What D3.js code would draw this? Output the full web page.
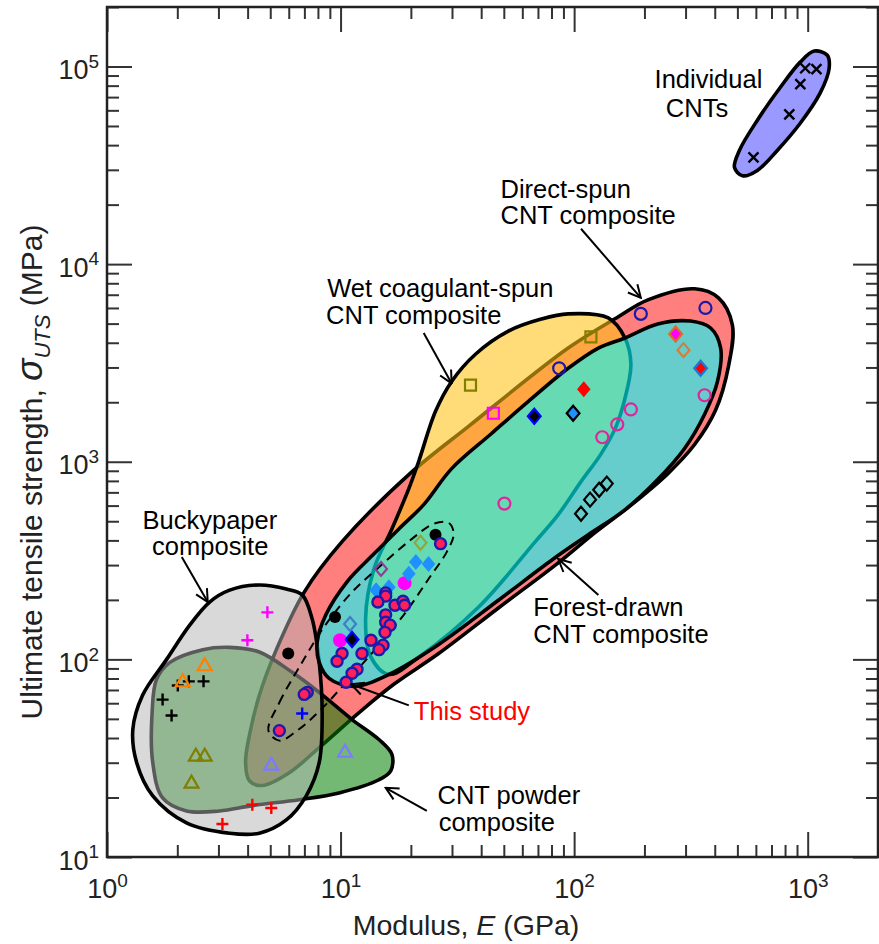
<!DOCTYPE html>
<html>
<head>
<meta charset="utf-8">
<script src="https://cdn.jsdelivr.net/npm/d3@7"></script>
<style>
  body { margin: 0; background: #fff; }
  svg { display: block; font-family: "Liberation Sans", Arial, Helvetica, sans-serif; }
</style>
</head>
<body>
<svg id="chart" width="879" height="944"></svg>
<script>
// ---- data: modulus E (GPa), strength (MPa) ----
const individualCNTs = [[976, 98000], [1090, 97000], [930, 81500], [834, 57300], [586, 34700]];
const buckyMagentaPlus = [[4.86, 173], [3.99, 125]];
const buckyBlackPlus = [[2.01, 73.8], [2.24, 77.4], [2.59, 77.4], [1.73, 62.6], [1.89, 52.0]];
const buckyRedPlus = [[4.19, 18.4], [5.05, 17.7], [3.12, 14.7]];
const buckyBluePlus = [[6.85, 53.2]];
const orangeTriangles = [[2.62, 92.3], [2.11, 76.6]];
const oliveTriangles = [[2.40, 32.2], [2.62, 32.2], [2.30, 23.5]];
const lilacTriangles = [[5.05, 29.0], [10.45, 33.7]];
const blackDots = [[5.97, 107], [9.47, 164], [25.5, 427]];
const magentaDots = [[18.8, 243], [9.95, 125]];
const thisStudy = [
  [26.8, 385], [15.6, 217], [15.6, 209], [14.45, 195], [17.1, 188], [18.5, 197], [18.8, 188],
  [15.6, 168], [15.6, 154], [16.3, 149], [15.5, 137], [13.5, 125], [15.2, 118], [14.6, 112],
  [12.35, 107], [10.15, 107], [9.66, 97.8], [11.76, 89.1], [11.2, 85.0], [10.56, 76.6],
  [7.20, 68.1], [6.99, 66.5], [5.47, 43.6]
];
const dodgerDiamonds = [[14.2, 224], [16.1, 232], [19.6, 271], [21.0, 311], [23.8, 304]];
const oliveDiamonds = [[22.0, 389]];
const purpleDiamonds = [[14.9, 287]];
const steelDiamonds = [[10.98, 151]];
const blackBlueDiamonds = [[11.2, 126], [67.5, 1700]];
const blueBlackDiamonds = [[99.0, 1760]];
const redDiamonds = [[110, 2330]];
const orangeMagentaDiamonds = [[272, 4430]];
const peruDiamonds = [[294, 3670]];
const blueRedDiamonds = [[348, 2970]];
const blackHollowDiamonds = [[107, 546], [117, 643], [128, 722], [138, 775]];
const oliveSquares = [[36.0, 2440], [118, 4280]];
const magentaSquares = [[45.1, 1760]];
const blueRings = [[86.3, 2970], [193, 5600], [365, 6000]];
const pinkRings = [[175, 1840], [153, 1545], [132, 1330], [362, 2170], [50.3, 614]];

// region outlines (E, strength)
const directSpunOutline = [
  [6.99, 219], [10.15, 394], [19.6, 861], [35.3, 1510], [94.3, 3760], [154, 5400], [207, 6590],
  [328, 7500], [415, 6750], [476, 4920], [458, 3040], [403, 1820], [328, 1222], [252, 871],
  [178.5, 614], [124, 442], [85.5, 308], [47.4, 182], [26.3, 107], [16.9, 74.8], [12.0, 53.8],
  [8.10, 35.8], [6.03, 26.7], [4.63, 23.0], [4.07, 24.3], [3.92, 30.0], [4.07, 41.2],
  [4.49, 65.8], [5.31, 112]
];
const powderOutline = [
  [1.63, 79.3], [1.86, 96.6], [2.57, 112], [3.35, 115], [4.49, 109], [6.21, 86], [8.10, 68.1],
  [11.2, 49.6], [14.6, 39.3], [16.6, 33.0], [16.4, 27.3], [14.6, 24.6], [9.85, 21.1],
  [6.65, 19.5], [4.19, 18.2], [3.03, 17.1], [2.19, 17.1], [1.73, 19.9], [1.57, 30.0], [1.56, 53.8]
];
const buckypaperOutline = [
  [2.75, 195], [3.35, 224], [4.49, 238], [5.86, 227], [6.85, 212], [7.56, 160], [8.10, 96.6],
  [8.34, 53.8], [8.10, 30.0], [7.13, 20.4], [5.86, 15.4], [4.49, 13.2], [3.35, 13.2],
  [2.19, 14.9], [1.57, 20.4], [1.34, 30.0], [1.29, 44.2], [1.42, 65.8], [1.80, 100], [2.26, 149]
];
const wetSpunOutline = [
  [16.6, 458], [19.6, 731], [21.6, 1003], [25.5, 1800], [29.9, 2550], [37.8, 3500], [52.3, 4580],
  [72.3, 5270], [94.3, 5600], [140, 5340], [165, 4230], [175, 3120], [165, 2090], [150, 1475],
  [130, 1090], [107, 793], [85.5, 540], [68.2, 394], [39.0, 184], [21.6, 102.6], [16.1, 83.9],
  [13.5, 102.6], [12.8, 160], [13.9, 287]
];
const forestOutline = [
  [7.94, 122], [8.67, 169], [10.66, 247], [13.9, 342], [17.8, 458], [22.7, 607], [29.9, 923],
  [44.3, 1390], [63.7, 2020], [94.3, 2970], [127, 3760], [165, 4230], [228, 4980], [315, 5150],
  [384, 4750], [424, 3760], [411, 2550], [362, 1740], [297, 1167], [228, 813], [165, 571],
  [115, 427], [81.4, 322], [47.4, 199], [26.3, 119], [16.1, 83.9], [11.4, 73.0], [8.93, 80.2],
  [8.10, 96.6]
];
const individualOutline = [
  [1066, 119700], [1211, 114300], [1236, 98200], [1130, 73300], [929, 51600], [741, 37600],
  [609, 29800], [526, 28000], [486, 30800], [510, 37600], [609, 53500], [764, 78500], [929, 105200]
];
const thisStudyOutline = [
  [4.91, 43.6], [5.47, 60.5], [6.65, 91.2], [8.50, 146], [11.2, 219], [15.0, 301], [20.2, 407],
  [25.0, 485], [29.0, 491], [30.5, 432], [28.5, 350], [23.8, 255], [19.0, 173], [14.6, 118],
  [11.2, 83.0], [8.34, 56.5], [6.52, 43.6], [5.47, 38.8]
];

// axis ticks
const xMajorTicks = [1, 10, 100, 1000];
const yMajorTicks = [10, 100, 1000, 10000, 100000];

// labels and arrows (anchored in data units)
const labelLines = [
  { text: "Individual", at: [221, 77500] },
  { text: "CNTs", at: [247, 55500] },
  { text: "Direct-spun", at: [48.4, 21700] },
  { text: "CNT composite", at: [48.4, 16000] },
  { text: "Wet coagulant-spun", at: [8.76, 6820] },
  { text: "CNT composite", at: [8.67, 4980] },
  { text: "Buckypaper", at: [1.42, 458] },
  { text: "composite", at: [1.56, 338] },
  { text: "Forest-drawn", at: [66.9, 166] },
  { text: "CNT composite", at: [66.9, 121] },
  { text: "This study", at: [20.6, 49.6], color: "#ff0000" },
  { text: "CNT powder", at: [26.0, 18.6] },
  { text: "composite", at: [26.3, 13.6] }
];
const arrowLines = [
  [[107, 15100], [193, 6750]],
  [[22.7, 4480], [29.9, 2490]],
  [[2.09, 330], [2.70, 195]],
  [[127, 212], [85.5, 322]],
  [[19.6, 58.5], [11.1, 74.8]],
  [[23.4, 17.1], [15.6, 22.4]]
];

// ---- chart ----
const svg = d3.select("#chart");
const width = +svg.attr("width");
const height = +svg.attr("height");
const margin = { top: 7, right: 1, bottom: 87, left: 107 };

const x = d3.scaleLog().domain([1, 2000]).range([margin.left, width - margin.right]);
const y = d3.scaleLog().domain([10, 2e5]).range([height - margin.bottom, margin.top]);

const defs = svg.append("defs");
defs.append("clipPath").attr("id", "plot-clip")
  .append("rect")
  .attr("x", margin.left).attr("y", margin.top)
  .attr("width", width - margin.left - margin.right)
  .attr("height", height - margin.top - margin.bottom);

defs.append("marker")
  .attr("id", "head")
  .attr("viewBox", "0 0 12 12")
  .attr("refX", 11).attr("refY", 6)
  .attr("markerWidth", 15).attr("markerHeight", 15)
  .attr("markerUnits", "userSpaceOnUse")
  .attr("orient", "auto")
  .append("path")
  .attr("d", "M1,1 L11,6 L1,11")
  .attr("fill", "none").attr("stroke", "#000").attr("stroke-width", 1.6);

const plot = svg.append("g").attr("clip-path", "url(#plot-clip)");

// shaded regions, bottom to top
const blob = d3.line()
  .x(d => x(d[0]))
  .y(d => y(d[1]))
  .curve(d3.curveCatmullRomClosed.alpha(0.5));

const regions = [
  { data: directSpunOutline, fill: "rgba(255,0,0,0.5)" },
  { data: powderOutline, fill: "rgba(0,128,0,0.55)" },
  { data: buckypaperOutline, fill: "rgba(179,179,179,0.5)" },
  { data: wetSpunOutline, fill: "rgba(255,193,18,0.57)" },
  { data: forestOutline, fill: "rgba(0,255,255,0.6)" },
  { data: individualOutline, fill: "rgba(0,0,255,0.4)" }
];
plot.selectAll(".region")
  .data(regions)
  .enter().append("path")
  .attr("class", "region")
  .attr("d", d => blob(d.data))
  .attr("fill", d => d.fill)
  .attr("stroke", "#000")
  .attr("stroke-width", 3.6)
  .attr("stroke-linejoin", "round");

plot.append("path")
  .attr("d", blob(thisStudyOutline))
  .attr("fill", "none")
  .attr("stroke", "#000")
  .attr("stroke-width", 2)
  .attr("stroke-dasharray", "9,6");

// marker shapes (size = radius in px)
const shapes = {
  circle: { draw(c, r) { c.moveTo(r, 0); c.arc(0, 0, r, 0, 2 * Math.PI); } },
  square: { draw(c, r) { c.rect(-r, -r, 2 * r, 2 * r); } },
  diamond: { draw(c, r) { c.moveTo(0, -r); c.lineTo(r * 0.85, 0); c.lineTo(0, r); c.lineTo(-r * 0.85, 0); c.closePath(); } },
  triangle: { draw(c, r) { c.moveTo(0, -r); c.lineTo(r * 0.866, r * 0.5); c.lineTo(-r * 0.866, r * 0.5); c.closePath(); } },
  plus: { draw(c, r) { c.moveTo(-r, 0); c.lineTo(r, 0); c.moveTo(0, -r); c.lineTo(0, r); } },
  cross: { draw(c, r) { c.moveTo(-r, -r); c.lineTo(r, r); c.moveTo(-r, r); c.lineTo(r, -r); } }
};

const markerSeries = [
  { data: individualCNTs, shape: "cross", r: 5, fill: "none", stroke: "#000", w: 2.4 },
  { data: buckyMagentaPlus, shape: "plus", r: 6, fill: "none", stroke: "#ff00ff", w: 2.4 },
  { data: buckyBlackPlus, shape: "plus", r: 6, fill: "none", stroke: "#000", w: 2.4 },
  { data: buckyRedPlus, shape: "plus", r: 6, fill: "none", stroke: "#ff0000", w: 2.4 },
  { data: buckyBluePlus, shape: "plus", r: 6, fill: "none", stroke: "#0000ff", w: 2.4 },
  { data: orangeTriangles, shape: "triangle", r: 8, fill: "none", stroke: "#ff8000", w: 2.2 },
  { data: oliveTriangles, shape: "triangle", r: 8, fill: "none", stroke: "#808000", w: 2.2 },
  { data: lilacTriangles, shape: "triangle", r: 8, fill: "none", stroke: "#7b7bff", w: 2.2 },
  { data: blackDots, shape: "circle", r: 6, fill: "#000", stroke: "none", w: 0 },
  { data: magentaDots, shape: "circle", r: 7, fill: "#ff00ff", stroke: "none", w: 0 },
  { data: dodgerDiamonds, shape: "diamond", r: 8, fill: "#1e90ff", stroke: "none", w: 0 },
  { data: oliveDiamonds, shape: "diamond", r: 7, fill: "none", stroke: "#8ca83c", w: 2.2 },
  { data: purpleDiamonds, shape: "diamond", r: 7, fill: "none", stroke: "#8b3f9b", w: 2.2 },
  { data: steelDiamonds, shape: "diamond", r: 7, fill: "none", stroke: "#3c80c8", w: 2.2 },
  { data: thisStudy, shape: "circle", r: 5.5, fill: "#ff1f5b", stroke: "#1c1caa", w: 2.4 },
  { data: blackBlueDiamonds, shape: "diamond", r: 7.5, fill: "#000", stroke: "#0000ff", w: 2.2 },
  { data: blueBlackDiamonds, shape: "diamond", r: 7.5, fill: "#1e90ff", stroke: "#000", w: 2.2 },
  { data: redDiamonds, shape: "diamond", r: 8, fill: "#ff0000", stroke: "none", w: 0 },
  { data: orangeMagentaDiamonds, shape: "diamond", r: 7.5, fill: "#ff00ff", stroke: "#e06a20", w: 2.2 },
  { data: peruDiamonds, shape: "diamond", r: 7, fill: "none", stroke: "#d0803a", w: 2.2 },
  { data: blueRedDiamonds, shape: "diamond", r: 7.5, fill: "#ff0000", stroke: "#1f78d0", w: 2.2 },
  { data: blackHollowDiamonds, shape: "diamond", r: 7, fill: "none", stroke: "#000", w: 2.2 },
  { data: oliveSquares, shape: "square", r: 5.5, fill: "none", stroke: "#808000", w: 2.2 },
  { data: magentaSquares, shape: "square", r: 5.5, fill: "none", stroke: "#ff00ff", w: 2.2 },
  { data: blueRings, shape: "circle", r: 6, fill: "none", stroke: "#1a1aaa", w: 2.2 },
  { data: pinkRings, shape: "circle", r: 6, fill: "none", stroke: "#e0259c", w: 2.2 }
];

const markers = plot.append("g");
markerSeries.forEach(s => {
  const symbol = d3.symbol().type(shapes[s.shape]).size(s.r);
  markers.append("g").selectAll("path")
    .data(s.data)
    .enter().append("path")
    .attr("transform", d => `translate(${x(d[0])},${y(d[1])})`)
    .attr("d", symbol)
    .attr("fill", s.fill)
    .attr("stroke", s.stroke)
    .attr("stroke-width", s.w);
});

// annotations
const notes = svg.append("g").attr("font-size", 25.5);
notes.selectAll("text")
  .data(labelLines)
  .enter().append("text")
  .attr("x", d => x(d.at[0]))
  .attr("y", d => y(d.at[1]))
  .attr("fill", d => d.color || "#000")
  .text(d => d.text);

notes.selectAll("line")
  .data(arrowLines)
  .enter().append("line")
  .attr("x1", d => x(d[0][0])).attr("y1", d => y(d[0][1]))
  .attr("x2", d => x(d[1][0])).attr("y2", d => y(d[1][1]))
  .attr("stroke", "#000")
  .attr("stroke-width", 2)
  .attr("marker-end", "url(#head)");

// axes: ticks point inward on all four sides
const isDecade = v => Math.abs(Math.log10(v) - Math.round(Math.log10(v))) < 1e-9;
const xMinor = x.ticks().filter(v => !isDecade(v));
const yMinor = y.ticks().filter(v => !isDecade(v));
const bottom = height - margin.bottom;
const right = width - margin.right;

function styleAxis(g) {
  g.select(".domain").remove();
  g.selectAll(".tick line").attr("stroke", "#333").attr("stroke-width", 2);
  g.attr("font-family", null);
}
function powerLabel(text) {
  text.each(function (d) {
    const t = d3.select(this).text(null);
    t.append("tspan").text("10");
    t.append("tspan").attr("dy", "-0.6em").attr("font-size", 19).text(Math.round(Math.log10(d)));
  });
}

const axes = svg.append("g");
axes.append("g").attr("transform", `translate(0,${bottom})`)
  .call(d3.axisBottom(x).tickValues(xMinor).tickSize(-12).tickFormat(""))
  .call(styleAxis);
axes.append("g").attr("transform", `translate(0,${bottom})`)
  .call(d3.axisBottom(x).tickValues(xMajorTicks).tickSize(-25).tickSizeOuter(0).tickPadding(22))
  .call(styleAxis)
  .attr("font-size", 27)
  .selectAll(".tick text").attr("fill", "#222").call(powerLabel);

axes.append("g").attr("transform", `translate(0,${margin.top})`)
  .call(d3.axisTop(x).tickValues(xMinor).tickSize(-12).tickFormat(""))
  .call(styleAxis);
axes.append("g").attr("transform", `translate(0,${margin.top})`)
  .call(d3.axisTop(x).tickValues(xMajorTicks).tickSize(-25).tickFormat(""))
  .call(styleAxis);

axes.append("g").attr("transform", `translate(${margin.left},0)`)
  .call(d3.axisLeft(y).tickValues(yMinor).tickSize(-12).tickFormat(""))
  .call(styleAxis);
axes.append("g").attr("transform", `translate(${margin.left},0)`)
  .call(d3.axisLeft(y).tickValues(yMajorTicks).tickSize(-25).tickSizeOuter(0).tickPadding(8))
  .call(styleAxis)
  .attr("font-size", 27)
  .selectAll(".tick text").attr("fill", "#222").attr("dy", "0.45em").call(powerLabel);

axes.append("g").attr("transform", `translate(${right},0)`)
  .call(d3.axisRight(y).tickValues(yMinor).tickSize(-12).tickFormat(""))
  .call(styleAxis);
axes.append("g").attr("transform", `translate(${right},0)`)
  .call(d3.axisRight(y).tickValues(yMajorTicks).tickSize(-25).tickFormat(""))
  .call(styleAxis);

axes.append("rect")
  .attr("x", margin.left).attr("y", margin.top)
  .attr("width", right - margin.left).attr("height", bottom - margin.top)
  .attr("fill", "none").attr("stroke", "#222").attr("stroke-width", 2.5);

// axis titles
const xTitle = svg.append("text")
  .attr("x", 466)
  .attr("y", height - 9)
  .attr("text-anchor", "middle")
  .attr("font-size", 28.5)
  .attr("fill", "#222");
xTitle.append("tspan").text("Modulus, ");
xTitle.append("tspan").attr("font-style", "italic").text("E");
xTitle.append("tspan").text(" (GPa)");

const yTitle = svg.append("text")
  .attr("transform", "translate(42,472) rotate(-90)")
  .attr("text-anchor", "middle")
  .attr("font-size", 30)
  .attr("fill", "#222");
yTitle.append("tspan").text("Ultimate tensile strength, ");
yTitle.append("tspan").attr("font-style", "italic").attr("font-size", 37).text("σ");
yTitle.append("tspan").attr("font-style", "italic").attr("font-size", 22).attr("dy", 8).text("UTS");
yTitle.append("tspan").attr("dy", -8).text(" (MPa)");
</script>
</body>
</html>
